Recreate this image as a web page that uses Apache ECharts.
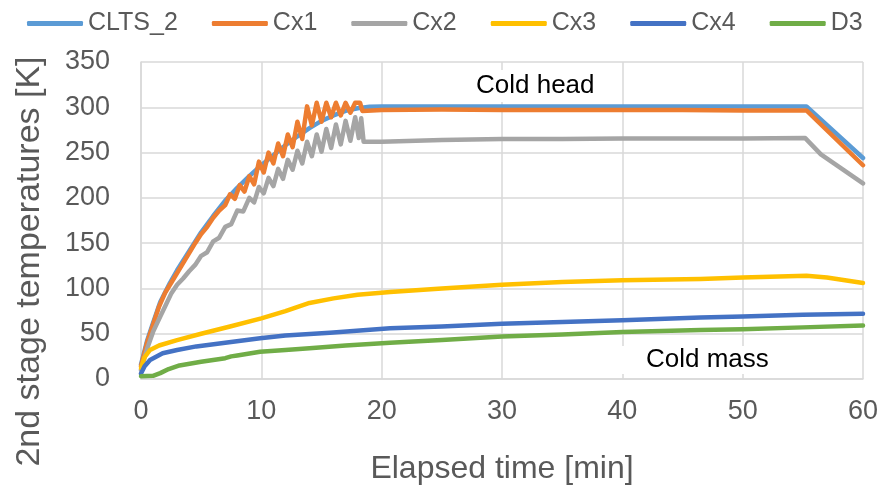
<!DOCTYPE html>
<html lang="en">
<head>
  <meta charset="UTF-8">
  <title>2nd stage temperatures</title>
  <script src="https://cdn.jsdelivr.net/npm/echarts@6/dist/echarts.min.js"></script>
  <style>
    html, body { margin: 0; padding: 0; background: #fff; }
    #chart { width: 896px; height: 490px; }
  </style>
</head>
<body>
  <div id="chart"></div>
  <script>
    // [elapsed min, K]
    const seriesNames = ['CLTS_2', 'Cx1', 'Cx2', 'Cx3', 'Cx4', 'D3'];
    const seriesColors = ['#5B9BD5', '#ED7D31', '#A5A5A5', '#FFC000', '#4472C4', '#70AD47'];
    const xTicks = [0, 10, 20, 30, 40, 50, 60];
    const yTicks = [0, 50, 100, 150, 200, 250, 300, 350];

    const clts2 = [[0,16],[0.5,42],[1,62],[1.6,85],[2.4,106],[3,120],[4,141],[5,162],[6,180],[7,197],[8,211],[9,224],[10,236],[11,247],[12,258],[13,268],[14,277],[15,285],[16,291],[17,296],[18,299],[19,300.5],[20,301],[30,301],[40,301],[50,301],[55.3,301],[60,244]];
    const cx1 = [[0,14],[0.5,40],[1,60],[1.5,80],[2,95],[2.5,106],[3,117],[3.5,128],[4,139],[4.5,150],[5,160],[5.5,168],[6,178],[6.5,186],[7,192],[7.4,204],[7.8,199],[8.2,214],[8.6,207],[9,224],[9.4,215],[9.8,240],[10.2,228],[10.6,250],[11,238],[11.4,260],[11.8,246],[12.2,270],[12.6,256],[13,284],[13.4,265],[13.8,301],[14.2,280],[14.6,305],[15,284],[15.4,305],[15.8,289],[16.2,305],[16.6,291],[17,305],[17.4,294],[17.8,305],[18.2,305],[18.4,296],[20,297],[25,297.5],[30,297],[35,297],[40,297],[45,297],[50,296.5],[55.3,296.5],[60,236]];
    const cx2 = [[0,10],[0.5,33],[1,52],[1.6,69],[2,80],[2.5,94],[3,104],[3.5,111],[4,119],[4.5,126],[5,136],[5.5,140],[6,152],[6.5,156],[7,168],[7.5,171],[8,186],[8.5,185],[9,200],[9.4,195],[9.8,212],[10.2,205],[10.6,222],[11,213],[11.4,232],[11.8,221],[12.2,242],[12.6,231],[13,252],[13.4,238],[13.8,262],[14.2,246],[14.6,270],[15,251],[15.4,276],[15.8,255],[16.2,281],[16.6,259],[17,285],[17.4,263],[17.8,289],[18.1,266],[18.3,288],[18.5,262],[20,262],[25,264],[30,265],[35,265],[40,265.5],[45,265.5],[50,265.5],[55.2,266],[56.5,248],[60,216]];
    const cx3 = [[0,12],[0.3,24],[0.75,32],[1.5,37],[3,43],[5,50],[7.4,58],[10,67],[12,75],[14,84],[16,89],[18,93],[20.7,96],[25,100],[30,104],[35,107],[40,109],[46.5,110.5],[50,112],[55.3,114],[57,112],[60,106]];
    const cx4 = [[0,6],[0.3,14],[0.75,21],[1.8,28.5],[3,32],[4.6,36],[7,40],[9.9,45],[12,48],[15.7,51],[20.7,56],[25,58],[30,61],[35,63],[40,65],[46.5,68],[50,69],[55,71],[60,72]];
    const d3 = [[0,3],[1,3.5],[1.6,6.5],[2.3,11],[3.2,15],[5,19],[7,23],[7.5,25],[8,26],[9.9,30],[12,32],[14,34],[17,37],[20.7,40],[25,43],[30,47],[35,49],[40,52],[46.5,54],[50,55],[55,57],[60,59]];
    const seriesData = [clts2, cx1, cx2, cx3, cx4, d3];

    const font = "'Liberation Sans', Arial, sans-serif";
    const gridColor = '#D9D9D9';
    const textColor = '#595959';

    const chart = echarts.init(document.getElementById('chart'));
    chart.setOption({
      animation: false,
      textStyle: { fontFamily: font },
      legend: {
        left: 22, top: 6,
        icon: 'roundRect',
        itemWidth: 56, itemHeight: 5, itemGap: 34,
        textStyle: { fontSize: 25, color: textColor },
        data: seriesNames
      },
      grid: { left: 141, right: 33, top: 62, bottom: 111 },
      xAxis: {
        type: 'value', min: 0, max: 60, interval: 10,
        name: 'Elapsed time [min]', nameLocation: 'middle', nameGap: 74,
        nameTextStyle: { fontSize: 32, color: textColor },
        axisLine: { lineStyle: { color: gridColor, width: 1.5 } },
        axisTick: { show: false },
        axisLabel: { fontSize: 27, color: textColor, margin: 19,
          formatter: v => xTicks.includes(v) ? String(v) : '' },
        splitLine: { lineStyle: { color: gridColor, width: 1.5 } }
      },
      yAxis: {
        type: 'value', min: 0, max: 350, interval: 50,
        name: '2nd stage temperatures [K]', nameLocation: 'middle', nameGap: 94,
        nameTextStyle: { fontSize: 34, color: textColor, padding: [0, 82, 0, 0] },
        axisLine: { show: true, lineStyle: { color: gridColor, width: 1.5 } },
        axisTick: { show: false },
        axisLabel: { fontSize: 27, color: textColor, margin: 31,
          formatter: v => yTicks.includes(v) ? String(v) : '' },
        splitLine: { lineStyle: { color: gridColor, width: 1.5 } }
      },
      series: seriesNames.map((name, i) => ({
        name, type: 'line', data: seriesData[i],
        symbol: 'none', color: seriesColors[i],
        lineStyle: { width: 4.5, color: seriesColors[i], cap: 'round', join: 'round' }
      })),
      graphic: [
        { type: 'text', left: 470, top: 70, z: 10,
          style: { text: 'Cold head', font: "26px 'Liberation Sans', Arial", fill: '#000',
            backgroundColor: '#fff', padding: [3, 6, 3, 6] } },
        { type: 'text', left: 612, top: 346, z: 10,
          style: { text: 'Cold mass', font: "26px 'Liberation Sans', Arial", fill: '#000',
            backgroundColor: '#fff', padding: [1, 14, 1, 34] } }
      ]
    });
  </script>
</body>
</html>
